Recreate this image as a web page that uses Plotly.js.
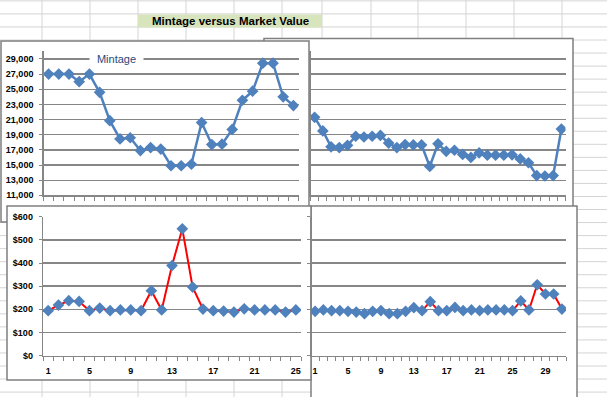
<!DOCTYPE html>
<html><head><meta charset="utf-8">
<script src="https://cdn.plot.ly/plotly-3.0.1.min.js"></script>
<style>html,body{margin:0;padding:0;background:#fff;overflow:hidden}#chart{width:607px;height:397px}</style>
</head><body><div id="chart"></div>
<script>
// ---- data ----
const chartTitle = 'Mintage versus Market Value';
const legendName = 'Mintage';
const mintageLeft = [27000,27000,27000,26000,27000,24600,20850,18450,18600,16900,17300,17100,14900,14900,15100,20600,17700,17750,19700,23550,24750,28450,28450,24000,22850];
const mintageRight = [21300,19500,17400,17300,17600,18800,18700,18800,18900,17900,17300,17700,17650,17650,14800,17800,16800,16950,16400,16000,16600,16300,16300,16300,16350,15800,15300,13600,13550,13600,19750];
const valueLeft = [194,218,237,234,194,205,194,197,197,194,280,197,389,548,296,201,194,192,188,202,197,197,197,188,197];
const valueRight = [191,197,194,194,191,188,181,191,194,181,181,191,207,194,233,194,194,208,194,197,194,197,197,197,194,236,197,306,266,266,201];
const mintageTicks = [11000,13000,15000,17000,19000,21000,23000,25000,27000,29000];
const mintageTickText = ['11,000','13,000','15,000','17,000','19,000','21,000','23,000','25,000','27,000','29,000'];
const valueTicks = [0,100,200,300,400,500,600];
const valueTickText = ['$0','$100','$200','$300','$400','$500','$600'];
const labelsLeft = [1,5,9,13,17,21,25];
const labelsRight = [1,5,9,13,17,21,25,29];

// ---- layout helpers ----
const W = 607, H = 397;
const fx = p => p / W;
const fy = p => 1 - p / H;
const idx = arr => arr.map((_, i) => i + 1);
const GRID = '#868686', SHEET = '#d4d4d4', BLUE = '#4f81bd';
const tickFont = {family: 'Liberation Sans, Arial, sans-serif', size: 9, color: '#000', weight: 'bold'};

const blueTrace = (vals, xa, ya) => ({
  x: idx(vals), y: vals, xaxis: xa, yaxis: ya, type: 'scatter', mode: 'lines+markers',
  line: {color: BLUE, width: 2.5}, marker: {symbol: 'diamond', size: 9, color: BLUE},
  showlegend: false, hoverinfo: 'skip'
});
const redTrace = (vals, xa, ya) => ({
  x: idx(vals), y: vals, xaxis: xa, yaxis: ya, type: 'scatter', mode: 'lines+markers',
  line: {color: '#ff0000', width: 2}, marker: {symbol: 'diamond', size: 9, color: BLUE},
  showlegend: false, hoverinfo: 'skip'
});

const data = [
  blueTrace(mintageLeft, 'x', 'y'),
  blueTrace(mintageRight, 'x2', 'y2'),
  redTrace(valueLeft, 'x3', 'y3'),
  redTrace(valueRight, 'x4', 'y4')
];

const catAxis = (n, d0, d1, anchor, labels) => ({
  domain: [fx(d0), fx(d1)], range: [0.5, n + 0.5], anchor: anchor,
  showline: true, linecolor: GRID, linewidth: 1.3, showgrid: false, zeroline: false,
  tickmode: labels ? 'array' : 'linear', tickvals: labels || undefined,
  showticklabels: !!labels, ticks: '', tickfont: tickFont, ticklabelstandoff: 6,
  minor: {tickmode: 'linear', tick0: 0.5, dtick: 1, ticks: 'outside', ticklen: 4, tickcolor: GRID, tickwidth: 1, showgrid: false},
  fixedrange: true
});
const valAxis = (y0, y1, anchor, rng, tv, tt, showLabels) => ({
  domain: [fy(y0), fy(y1)], range: rng, anchor: anchor,
  tickmode: 'array', tickvals: tv, ticktext: tt, showticklabels: showLabels,
  ticks: 'outside', ticklen: 3, tickcolor: GRID, tickfont: tickFont, ticklabelstandoff: 4,
  showline: true, linecolor: GRID, linewidth: 1.3,
  showgrid: true, gridcolor: GRID, gridwidth: 1.3, zeroline: false, fixedrange: true
});

const shapes = [];
// spreadsheet grid
for (let k = -3; k <= 28; k++) {
  const y = 40 + 13.04 * k;
  shapes.push({type: 'line', xref: 'paper', yref: 'paper', x0: 0, x1: 1, y0: fy(y), y1: fy(y), line: {color: SHEET, width: 1}, layer: 'below'});
}
[42, 90, 138, 186, 234, 282, 322, 371, 418, 466, 514, 562].forEach(x => {
  shapes.push({type: 'line', xref: 'paper', yref: 'paper', x0: fx(x), x1: fx(x), y0: 0, y1: 1, line: {color: SHEET, width: 1}, layer: 'below'});
});
// title cell
shapes.push({type: 'rect', xref: 'paper', yref: 'paper', x0: fx(138), x1: fx(322), y0: fy(27.5), y1: fy(14.5), fillcolor: '#d8e4bc', line: {width: 0}, layer: 'below'});
// chart boxes, in stacking order
const box = (x0, y0, x1, y1) => shapes.push({type: 'rect', xref: 'paper', yref: 'paper', x0: fx(x0), x1: fx(x1), y0: fy(y1), y1: fy(y0), fillcolor: '#ffffff', line: {color: '#7f7f7f', width: 1.5}, layer: 'below'});
box(264, 38.5, 573, 215);   // top right
box(1, 41, 309, 222);       // top left
box(311, 206, 577, 410);    // bottom right
box(7, 206, 311, 380);      // bottom left

const layout = {
  width: W, height: H, margin: {l: 0, r: 0, t: 0, b: 0},
  paper_bgcolor: '#ffffff', plot_bgcolor: 'rgba(0,0,0,0)', showlegend: false,
  xaxis: catAxis(mintageLeft.length, 43.5, 298.5, 'y', null),
  yaxis: valAxis(195.3, 51.4, 'x', [11000, 30000], mintageTicks, mintageTickText, true),
  xaxis2: catAxis(mintageRight.length, 310.5, 565.5, 'y2', null),
  yaxis2: Object.assign(valAxis(195.3, 51.4, 'x2', [11000, 30000], mintageTicks, mintageTickText, false), {ticks: ''}),
  xaxis3: catAxis(valueLeft.length, 43, 301, 'y3', labelsLeft),
  yaxis3: valAxis(355.5, 216.8, 'x3', [0, 600], valueTicks, valueTickText, true),
  xaxis4: catAxis(valueRight.length, 311, 566, 'y4', labelsRight),
  yaxis4: valAxis(355.5, 216.8, 'x4', [0, 600], valueTicks, valueTickText, false),
  shapes: shapes,
  annotations: [
    {xref: 'paper', yref: 'paper', x: fx(230), y: fy(21), text: '<b>' + chartTitle + '</b>', showarrow: false,
     font: {family: 'Liberation Sans, Arial, sans-serif', size: 11.5, color: '#000'}, xanchor: 'center', yanchor: 'middle'},
    {xref: 'paper', yref: 'paper', x: fx(116.5), y: fy(59), text: legendName, showarrow: false,
     font: {family: 'Liberation Sans, Arial, sans-serif', size: 11, color: '#1f497d'}, bgcolor: '#ffffff',
     width: 53, height: 12, borderpad: 0, xanchor: 'center', yanchor: 'middle'}
  ]
};

Plotly.newPlot('chart', data, layout, {staticPlot: true, displayModeBar: false});
</script>
</body></html>
